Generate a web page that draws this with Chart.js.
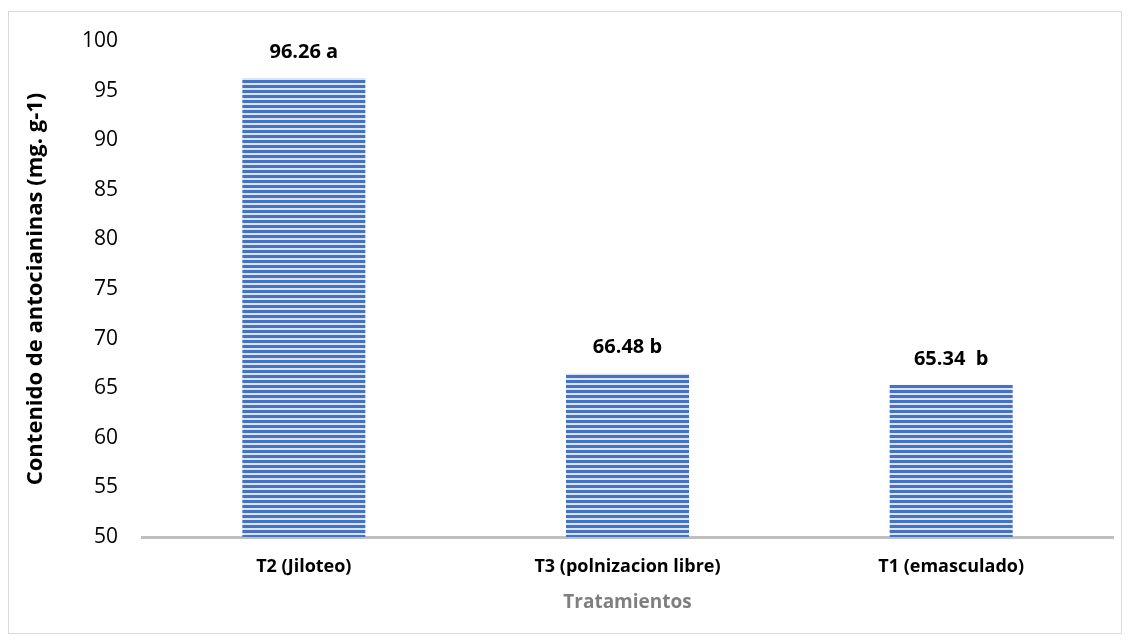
<!DOCTYPE html>
<html>
<head>
<meta charset="utf-8">
<script src="https://cdn.jsdelivr.net/npm/chart.js@4"></script>
<style>
  html, body { margin: 0; padding: 0; background: #fff; }
  #wrap { width: 1130px; height: 643px; }
</style>
</head>
<body>
<div id="wrap"><canvas id="grafico" width="1130" height="643"></canvas></div>
<script>
const categorias = ['T2 (Jiloteo)', 'T3 (polnizacion libre)', 'T1 (emasculado)'];
const valores = [96.26, 66.48, 65.34];
const letras = ['96.26 a', '66.48 b', '65.34  b'];
const yMin = 50, yMax = 100, yPaso = 5;

const fuente = '"Open Sans", sans-serif';

// rayas horizontales de las barras
function patronRayas(ctx) {
  const c = document.createElement('canvas');
  c.width = 4; c.height = 5;
  const p = c.getContext('2d');
  p.fillStyle = '#dce4f4';
  p.fillRect(0, 0, 4, 5);
  p.fillStyle = '#4472c4';
  p.fillRect(0, 0, 4, 3);
  return ctx.createPattern(c, 'repeat');
}

const marco = {
  id: 'marco',
  beforeDraw(chart) {
    const c = chart.ctx;
    c.save();
    c.fillStyle = '#fff';
    c.fillRect(0, 0, chart.width, chart.height);
    c.strokeStyle = '#d9d9d9';
    c.lineWidth = 1;
    c.strokeRect(8.5, 11.5, 1113, 622);
    c.restore();
  }
};

const etiquetas = {
  id: 'etiquetas',
  afterDatasetsDraw(chart) {
    const c = chart.ctx;
    const meta = chart.getDatasetMeta(0);
    c.save();
    c.font = 'bold 20px ' + fuente;
    c.fillStyle = '#000';
    c.textAlign = 'center';
    c.textBaseline = 'middle';
    meta.data.forEach((bar, i) => {
      c.fillText(letras[i], bar.x, bar.y - 26);
    });
    c.restore();
  }
};

const ctx = document.getElementById('grafico').getContext('2d');
const grafico = new Chart(ctx, {
  type: 'bar',
  data: {
    labels: categorias,
    datasets: [{
      data: valores,
      backgroundColor: patronRayas(ctx),
      borderWidth: 0,
      categoryPercentage: 1,
      barPercentage: 0.38
    }]
  },
  options: {
    responsive: false,
    animation: false,
    layout: { padding: { left: 10, right: 17, top: 41, bottom: 0 } },
    plugins: { legend: { display: false }, tooltip: { enabled: false } },
    scales: {
      x: {
        grid: { display: false, drawTicks: false },
        border: { display: true, color: '#bfbfbf', width: 3 },
        ticks: { color: '#000', padding: 19, font: { family: fuente, size: 18, weight: 'bold' } },
        title: {
          display: true, text: 'Tratamientos', color: '#7f7f7f',
          font: { family: fuente, size: 19, weight: 'bold' },
          padding: { top: 0, bottom: 29 }
        },
        afterFit(s) { s.height = 106; }
      },
      y: {
        min: yMin, max: yMax,
        grid: { display: false, drawTicks: false },
        border: { display: false },
        ticks: { stepSize: yPaso, color: '#000', padding: 24, font: { family: fuente, size: 21 } },
        title: {
          display: true, text: 'Contenido de antocianinas (mg. g-1)', color: '#000',
          font: { family: fuente, size: 22, weight: 'bold' },
          padding: { top: 13, bottom: 0 }
        },
        afterFit(s) { s.width = 132; }
      }
    }
  },
  plugins: [marco, etiquetas]
});
</script>
</body>
</html>
